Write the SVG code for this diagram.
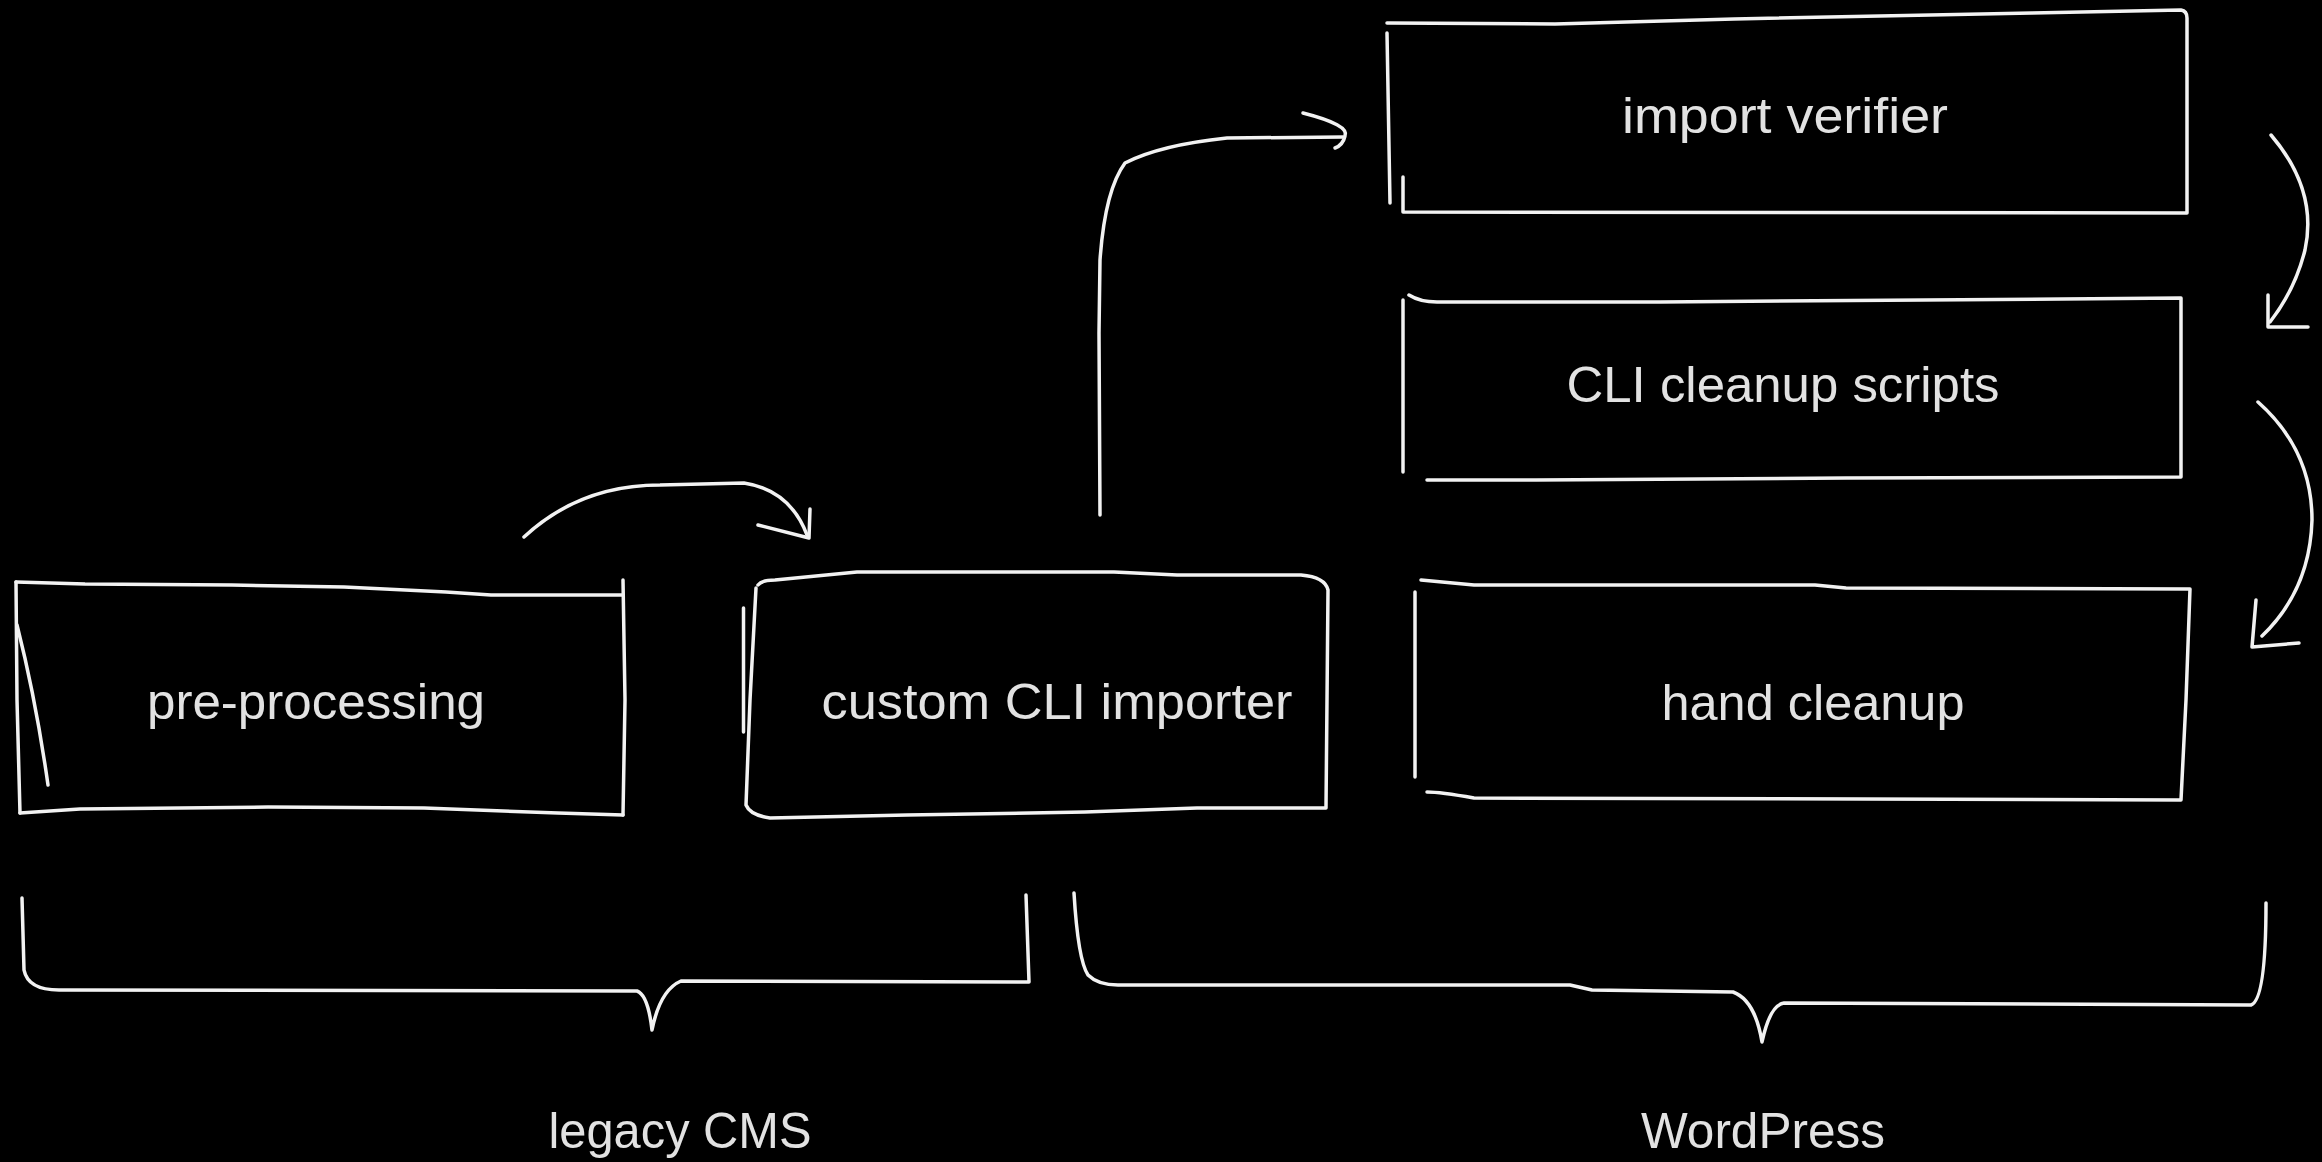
<svg xmlns="http://www.w3.org/2000/svg" width="2322" height="1162" viewBox="0 0 2322 1162">
<style>
.bg{fill:#000}
.s{fill:none;stroke:#f2f2f2;stroke-width:3.5;stroke-linecap:round;stroke-linejoin:round}
.t{fill:#e2e2e2;font-family:"Liberation Sans",Arial,sans-serif;font-size:50px;text-anchor:middle}
</style>
<rect class="bg" x="0" y="0" width="2322" height="1162"/>
<g id="node-preprocessing">
<path class="s" d="M16,582 L85,584 L232,585 L344,587 L446,592 L491,595 L623,595"/>
<path class="s" d="M623,580 L625,700 L623,815"/>
<path class="s" d="M20,813 L80,809 L268,807 L424,808 L558,813 L623,815"/>
<path class="s" d="M16,582 L17,700 L20,813"/>
<path class="s" d="M17,625 Q36,700 48,785"/>
<text class="t" x="316" y="719" textLength="338" lengthAdjust="spacingAndGlyphs">pre-processing</text>
</g>
<g id="node-importer">
<path class="s" d="M758,585 Q762,580 775,580 L857,572 L1114,572 L1177,575 L1301,575 Q1325,577 1328,590 L1327,700 L1326,808 L1197,808 L1085,812 L907,815 L770,818 Q750,815 746,805 L750,700 L756,588"/>
<path class="s" d="M743.5,608 L743.5,732"/>
<text class="t" x="1057" y="719" textLength="471" lengthAdjust="spacingAndGlyphs">custom CLI importer</text>
</g>
<g id="node-verifier">
<path class="s" d="M1387,23 L1555,24 L1734,19 L2032,13 L2181,10 Q2187,11 2187,18 L2187,213 L1403,212 L1403,177"/>
<path class="s" d="M1387,33 L1390,203"/>
<text class="t" x="1785" y="133" textLength="326" lengthAdjust="spacingAndGlyphs">import verifier</text>
</g>
<g id="node-cleanup-scripts">
<path class="s" d="M1409,295 Q1420,302 1437,302 L1660,302 L2181,298 L2181,477 L1846,478 L1536,480 L1427,480"/>
<path class="s" d="M1403,300 L1403,472"/>
<text class="t" x="1783" y="402" textLength="433" lengthAdjust="spacingAndGlyphs">CLI cleanup scripts</text>
</g>
<g id="node-hand-cleanup">
<path class="s" d="M1421,580 L1474,585 L1815,585 L1846,588 L2190,589 L2186,700 L2181,800 L1474,798 Q1440,792 1427,792"/>
<path class="s" d="M1415,592 L1415,777"/>
<text class="t" x="1813" y="720" textLength="303" lengthAdjust="spacingAndGlyphs">hand cleanup</text>
</g>
<g id="connectors">
<path class="s" d="M524,537 Q580,485 660,485 L744,483 Q790,490 807,535"/>
<path class="s" d="M758,525 L809,538 L810,509"/>
<path class="s" d="M1100,515 L1099,333 L1100,260 Q1105,190 1125,163 Q1160,145 1227,138 L1343,137"/>
<path class="s" d="M1303,113 Q1350,125 1345,136 Q1343,145 1335,148"/>
<path class="s" d="M2271,135 Q2318,190 2305,250 Q2295,290 2270,322"/>
<path class="s" d="M2268,295 L2268,327 L2308,327"/>
<path class="s" d="M2258,402 Q2312,450 2312,520 Q2310,590 2262,636"/>
<path class="s" d="M2256,600 L2252,647 L2299,643"/>
</g>
<g id="group-legacy">
<path class="s" d="M22,898 L24,970 Q28,990 59,990 L637,991 Q648,995 652,1030 Q660,990 681,981 L1029,982 L1026,895"/>
<text class="t" x="680" y="1148" textLength="263" lengthAdjust="spacingAndGlyphs">legacy CMS</text>
</g>
<g id="group-wordpress">
<path class="s" d="M1074,893 Q1078,960 1088,975 Q1098,985 1118,985 L1570,985 L1592,990 L1733,992 Q1755,1000 1762,1042 Q1770,1005 1784,1003 L2251,1005 Q2266,1000 2266,903"/>
<text class="t" x="1763" y="1148" textLength="244" lengthAdjust="spacingAndGlyphs">WordPress</text>
</g>
</svg>
